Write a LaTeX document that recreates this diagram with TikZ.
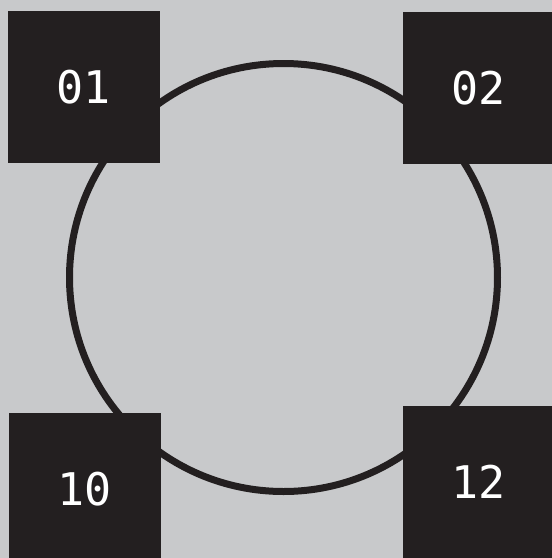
\documentclass[tikz,border=0pt]{standalone}
\usepackage{fontspec}
\newfontfamily\labelfont{DejaVu Sans Mono}
\definecolor{bggray}{HTML}{C8C9CB}
\definecolor{boxblack}{HTML}{231F20}

\begin{document}
\begin{tikzpicture}[
  x=1pt, y=-1pt,
  tile/.style={rectangle, fill=boxblack, draw=none, minimum size=152pt,
    inner sep=0pt, text=white, font=\labelfont\fontsize{45}{45}\selectfont},
  ring/.style={circle, draw=boxblack, line width=7pt, minimum size=428pt, inner sep=0pt}
  ]

  % Background and frame
  \useasboundingbox (0,0) rectangle (552,558);
  \clip (0,0) rectangle (552,558);
  \fill[bggray] (0,0) rectangle (552,558);

  % Define nodes
  \node[ring] (loop) at (283.5,277.5) {};

  \node[tile] (01) at (84,87) {01};
  \node[tile] (02) at (479,88) {02};
  \node[tile] (10) at (85,489) {10};
  \node[tile] (12) at (479,482) {12};

\end{tikzpicture}
\end{document}
